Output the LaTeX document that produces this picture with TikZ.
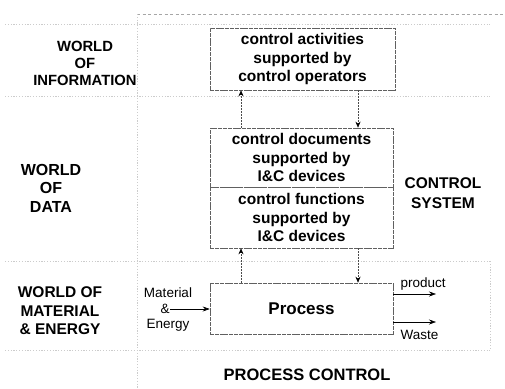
\documentclass[tikz,border=0pt]{standalone}
\usepackage{fontspec}
\setmainfont{Liberation Sans}
\usetikzlibrary{arrows.meta}
\begin{document}
\begin{tikzpicture}[x=1pt,y=-1pt,
  bg/.style={draw=gray!40, line width=0.5pt, dash pattern=on 1.2pt off 1.6pt},
  topline/.style={draw=gray!70, line width=0.6pt, dash pattern=on 3pt off 2.5pt},
  boxst/.style={draw=gray!75!black, line width=0.6pt, dash pattern=on 4pt off 0.8pt, inner sep=0pt, align=center,
    font=\fontsize{15.5}{18.5}\selectfont\bfseries},
  lab/.style={align=center, font=\fontsize{14.8}{17}\selectfont\bfseries},
  small/.style={align=center, font=\fontsize{13.5}{16}\selectfont},
  flow/.style={draw=gray!60!black, line width=0.6pt, dash pattern=on 2pt off 1pt, -{Stealth[length=6pt,width=5pt,black]}},
  solidflow/.style={draw=black, line width=0.6pt, -{Stealth[length=7pt,width=5pt]}}]
\useasboundingbox (0,0) rectangle (505,388);
% background grid lines
\draw[topline] (137,14) -- (505,14);
\draw[bg] (5,24) -- (490,24);
\draw[bg] (5,96) -- (490,96);
\draw[bg] (5,261) -- (490,261);
\draw[bg] (5,350) -- (490,350);
\draw[bg] (137,14) -- (137,388);
\draw[bg] (490,261) -- (490,350);
% boxes
\node[boxst, minimum width=185pt, minimum height=62pt] (b1) at (302.5,59) {control activities\\supported by\\control operators};
\node[boxst, minimum width=183pt, minimum height=59pt] (b2) at (301.5,157.5) {control documents\\supported by\\I\&C devices};
\node[boxst, minimum width=183pt, minimum height=61pt] (b3) at (301.5,217.5) {control functions\\supported by\\I\&C devices};
\node[boxst, minimum width=183pt, minimum height=51pt, font=\fontsize{17}{19}\selectfont\bfseries] (pr) at (301.5,308.5) {Process};
% labels
\node[lab] (winf) at (85,63) {WORLD\\OF\\INFORMATION};
\node[lab, font=\fontsize{16}{18.5}\selectfont\bfseries] (wdat) at (51,188) {WORLD\\OF\\DATA};
\node[lab, font=\fontsize{15.5}{20}\selectfont\bfseries] (csys) at (443,193) {CONTROL\\SYSTEM};
\node[lab, font=\fontsize{15.5}{18.5}\selectfont\bfseries] (wmat) at (60,311) {WORLD OF\\MATERIAL\\\& ENERGY};
\node[lab, font=\fontsize{16.5}{19}\selectfont\bfseries] (pc) at (307,375) {PROCESS CONTROL};
% vertical arrows
\coordinate (xl) at (241,0);
\coordinate (xr) at (358,0);
\draw[flow] (b2.north -| xl) -- (b1.south -| xl);
\draw[flow] (b1.south -| xr) -- (b2.north -| xr);
\draw[flow] (pr.north -| xl) -- (b3.south -| xl);
\draw[flow] (b3.south -| xr) -- (pr.north -| xr);
% material & energy
\node[small] (mat) at (168,293) {Material};
\node[small] (amp) at (165,309) {\&};
\node[small] (ene) at (168,325) {Energy};
\coordinate (ms) at (170,309);
\draw[solidflow] (ms) -- (ms -| pr.west);
% outputs
\coordinate (pe) at (436,294);
\coordinate (we) at (436,322);
\draw[solidflow] (pe -| pr.east) -- (pe);
\draw[solidflow] (we -| pr.east) -- (we);
\node[small, anchor=west] (prod) at (397,284) {product};
\node[small, anchor=west] (was) at (397,335) {Waste};
\end{tikzpicture}
\end{document}
